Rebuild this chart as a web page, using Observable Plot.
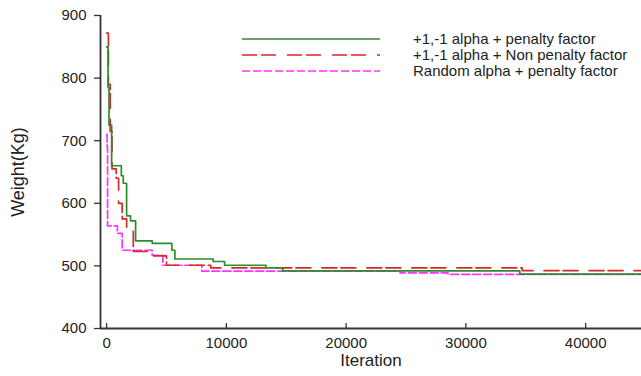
<!DOCTYPE html>
<html>
<head>
<meta charset="utf-8">
<script src="https://cdn.jsdelivr.net/npm/d3@7"></script>
<script src="https://cdn.jsdelivr.net/npm/@observablehq/plot@0.6"></script>
<style>
  html, body { margin: 0; padding: 0; background: #fff; }
  #chart { width: 641px; height: 376px; }
</style>
</head>
<body>
<div id="chart"></div>
<script>
// ---- data ----
const seriesNames = [
  "+1,-1 alpha + penalty factor",
  "+1,-1 alpha + Non penalty factor",
  "Random alpha + penalty factor"
];
const greenIter = [0, 120, 200, 420, 1230, 1390, 1670, 2000, 2420, 3810, 5450, 5700, 8900, 9850, 13300, 14700, 34500, 44660];
const greenVal  = [850, 785, 725, 660, 644, 632, 580, 572, 540, 536, 525, 511, 507, 501, 497, 492, 487, 487];
const redIter = [0, 150, 300, 450, 800, 1000, 1300, 1670, 2230, 3810, 5000, 8700, 34700, 44660];
const redVal  = [872, 790, 715, 655, 640, 600, 575, 555, 523, 516, 501, 497, 492.5, 492.5];
const magIter = [0, 40, 80, 900, 1300, 3800, 4700, 7950, 24500, 28500, 44660];
const magVal  = [710, 690, 564, 552, 525, 517, 501, 491.5, 489, 486.5, 486.5];
const xTicks = [0, 10000, 20000, 30000, 40000];
const yTicks = [400, 500, 600, 700, 800, 900];
const xDomain = [-510, 44660];
const yDomain = [400, 900];

const colors = ["#2e8b2e", "#d42a2a", "#ff33ff"];
const dashes = [null, "15,4,15,11", "8,3"];

const toRows = (its, vals) => its.map((x, i) => ({x, y: vals[i]}));
const series = [toRows(greenIter, greenVal), toRows(redIter, redVal), toRows(magIter, magVal)];

const font = "'Liberation Sans', Arial, sans-serif";

const plot = Plot.plot({
  width: 641,
  height: 376,
  marginLeft: 100,
  marginRight: 0,
  marginTop: 15,
  marginBottom: 48,
  style: {fontFamily: font, fontSize: "15px", color: "#222", background: "#fff"},
  x: {domain: xDomain},
  y: {domain: yDomain},
  marks: [
    Plot.line(series[2], {x: "x", y: "y", curve: "step-after", stroke: colors[2], strokeWidth: 1.7, strokeDasharray: dashes[2]}),
    Plot.line(series[1], {x: "x", y: "y", curve: "step-after", stroke: colors[1], strokeWidth: 1.7, strokeDasharray: dashes[1]}),
    Plot.line(series[0], {x: "x", y: "y", curve: "step-after", stroke: colors[0], strokeWidth: 1.7}),
    Plot.axisY({ticks: yTicks, tickSize: 6, tickPadding: 8, label: null, fontSize: 15, stroke: "#333", strokeWidth: 1.3}),
    Plot.axisX({ticks: xTicks, tickSize: 0, tickPadding: 9, label: null, fontSize: 15, tickFormat: d => String(d)}),
    Plot.ruleX(xTicks, {x: d => d, y1: yDomain[0], y2: yDomain[0] + 8, stroke: "#333", strokeWidth: 1.3}),
    Plot.ruleX([xDomain[0]], {stroke: "#333", strokeWidth: 1.8}),
    Plot.ruleY([yDomain[0]], {stroke: "#333", strokeWidth: 1.8}),
    Plot.text(["Weight(Kg)"], {frameAnchor: "left", dx: -82, rotate: -90, textAnchor: "middle", fontSize: 18, fill: "#222"}),
    Plot.text(["Iteration"], {frameAnchor: "bottom", dy: 37, fontSize: 17, fill: "#222"})
  ]
});

// legend drawn inside the plot area
const svg = d3.select(plot);
const lg = svg.append("g").attr("font-family", font).attr("font-size", 15)
  .attr("fill", "#222").attr("text-anchor", "start");
seriesNames.forEach((name, i) => {
  const y = 39 + i * 16;
  lg.append("line").attr("x1", 242).attr("x2", 380).attr("y1", y).attr("y2", y)
    .attr("stroke", colors[i]).attr("stroke-width", 1.7)
    .attr("stroke-dasharray", dashes[i]);
  lg.append("text").attr("x", 413).attr("y", y).attr("dy", "0.35em").text(name);
});

document.getElementById("chart").appendChild(plot);
</script>
</body>
</html>
